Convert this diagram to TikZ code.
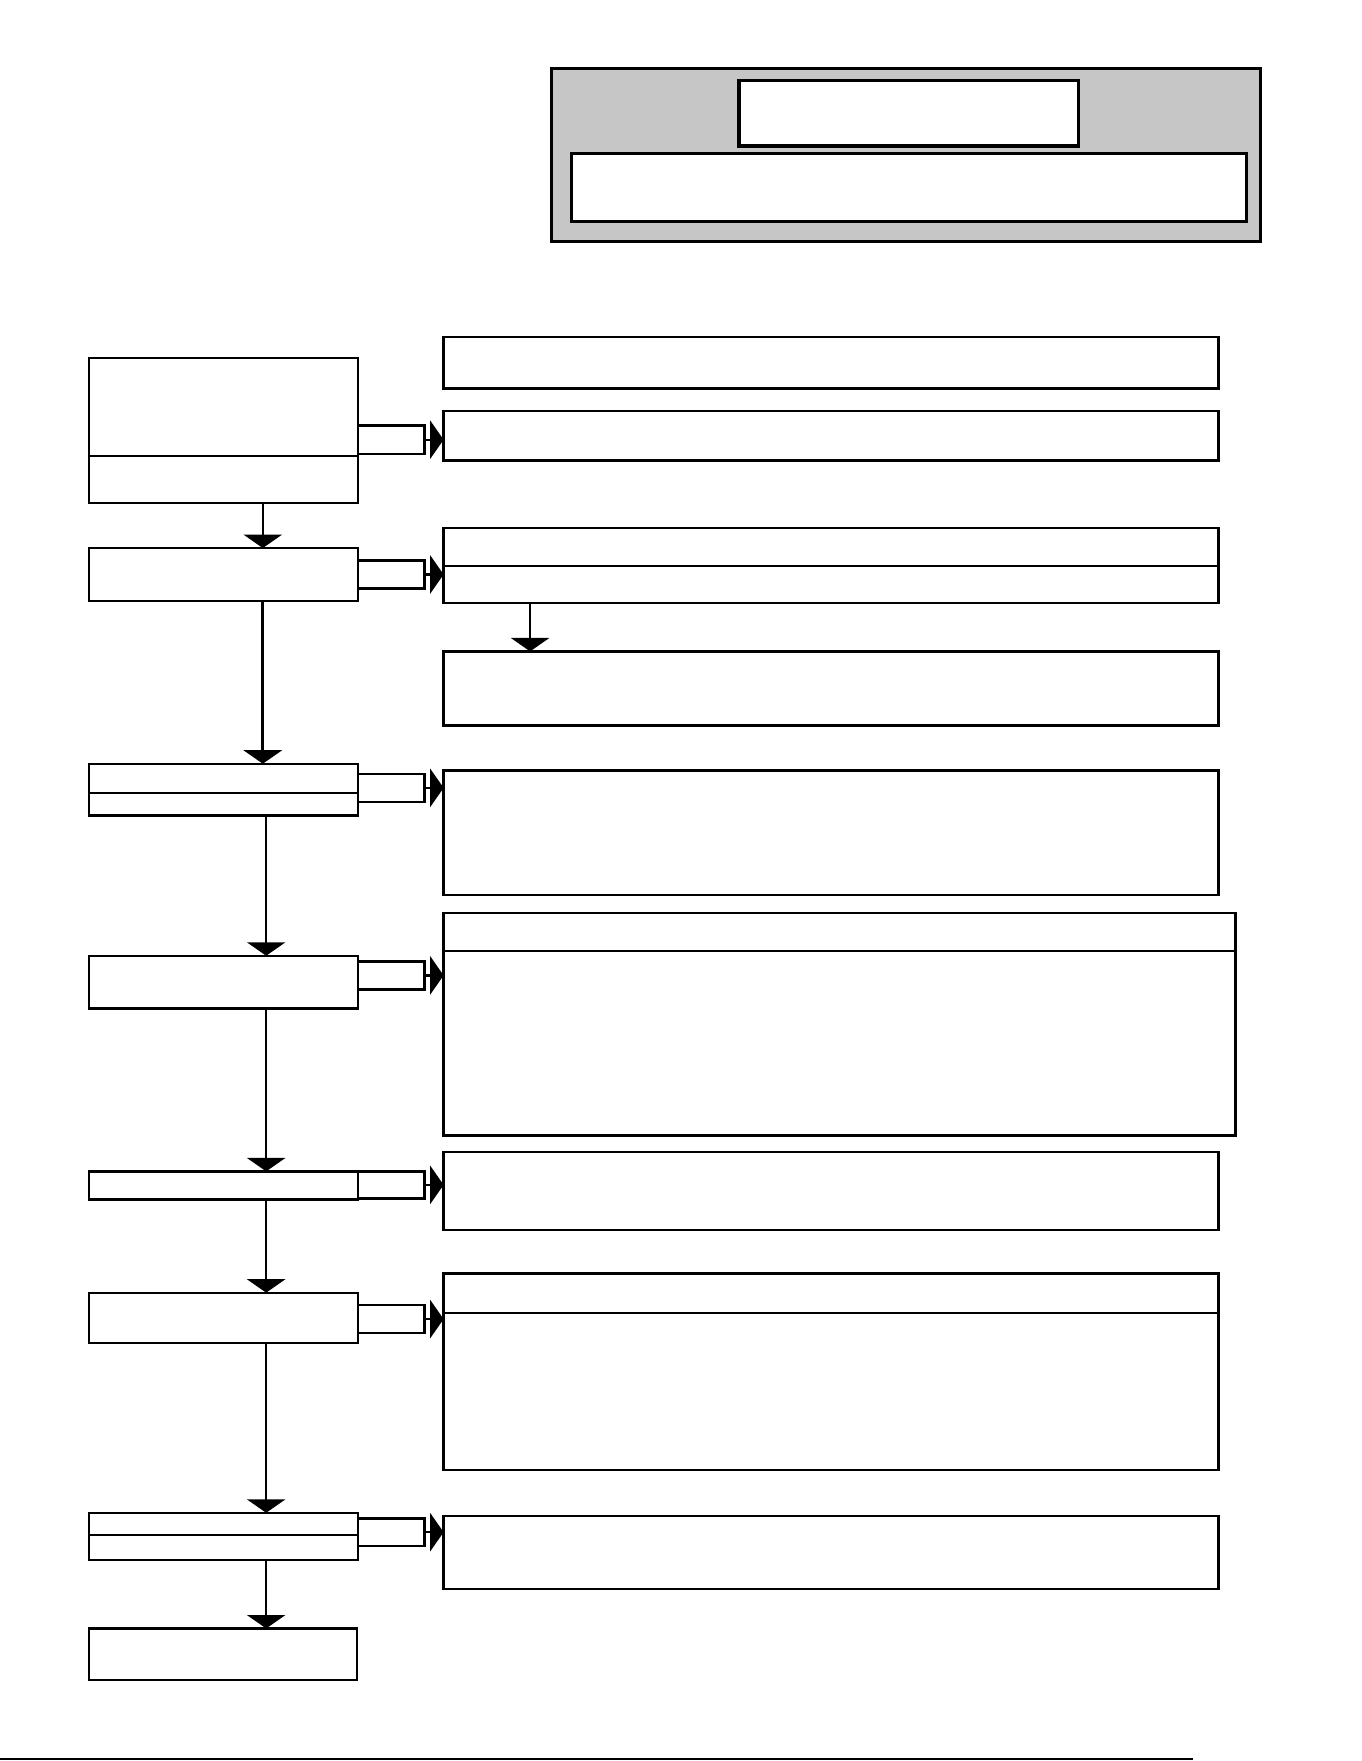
\documentclass[tikz,border=0pt]{standalone}
\usepackage{tikz}
\usetikzlibrary{arrows.meta, positioning, calc}
\definecolor{PanelGrey}{RGB}{198,198,198}

\begin{document}
\begin{tikzpicture}[x=0.1mm, y=-0.1mm, >={Triangle[width=3.4mm, length=1.2mm]},
  box/.style={draw, line width=0.6pt, fill=white, inner sep=0pt, outer sep=0pt, anchor=north west},
  tab/.style={box, minimum width=5.9mm, minimum height=2.5mm},
  divider/.style={line width=0.6pt},
  flow/.style={->, line width=0.6pt}]
  \useasboundingbox (0,0) rectangle (1212,1568);
  % Header panel
  \node[box, fill=PanelGrey, line width=0.8pt, minimum width=63.1mm, minimum height=15.4mm] (panel) at (491,61) {};
  \node[box, line width=0.8pt, minimum width=30.2mm, minimum height=5.8mm] (title) at (658,72) {};
  \node[box, line width=0.8pt, minimum width=60.1mm, minimum height=6mm] (subtitle) at (509,137) {};
  % Left column: steps
  \node[box, minimum width=24mm, minimum height=12.9mm] (s1) at (79,319) {};
  \node[box, minimum width=24mm, minimum height=4.7mm] (s2) at (79,488) {};
  \node[box, minimum width=24mm, minimum height=4.6mm] (s3) at (79,680) {};
  \node[box, minimum width=24mm, minimum height=4.7mm] (s4) at (79,851) {};
  \node[box, minimum width=24mm, minimum height=2.5mm] (s5) at (79,1043) {};
  \node[box, minimum width=24mm, minimum height=4.5mm] (s6) at (79,1151) {};
  \node[box, minimum width=24mm, minimum height=4.2mm] (s7) at (79,1347) {};
  \node[box, minimum width=23.9mm, minimum height=4.6mm] (s8) at (79,1450) {};
  \draw[divider] (78,406) -- (s1.east |- 0,406);
  \draw[divider] (78,706) -- (s3.east |- 0,706);
  \draw[divider] (78,1367) -- (s7.east |- 0,1367);
  % Tabs beside the steps
  \node[tab] (c1) at (319,379) {};
  \node[tab] (c2) at (319,499) {};
  \node[tab] (c3) at (319,689) {};
  \node[tab] (c4) at (319,856) {};
  \node[tab, minimum height=2.4mm] (c5) at (319,1043) {};
  \node[tab] (c6) at (319,1162) {};
  \node[tab, minimum height=2.45mm] (c7) at (319,1352) {};
  % Right column: remarks
  \node[box, minimum width=69mm, minimum height=4.6mm] (r1) at (395,300) {};
  \node[box, minimum width=69mm, minimum height=4.4mm] (r2) at (395,366) {};
  \node[box, minimum width=69mm, minimum height=6.7mm] (r3) at (395,470) {};
  \node[box, minimum width=69mm, minimum height=6.6mm] (r4) at (395,580) {};
  \node[box, minimum width=69mm, minimum height=11.1mm] (r5) at (395,686) {};
  \node[box, minimum width=70.5mm, minimum height=19.8mm] (r6) at (395,813) {};
  \node[box, minimum width=69mm, minimum height=6.9mm] (r7) at (395,1026) {};
  \node[box, minimum width=69mm, minimum height=17.5mm] (r8) at (395,1134) {};
  \node[box, minimum width=69mm, minimum height=6.5mm] (r9) at (395,1350) {};
  \draw[divider] (r3.west |- 0,504) -- (r3.east |- 0,504);
  \draw[divider] (r6.west |- 0,847) -- (r6.east |- 0,847);
  \draw[divider] (r8.west |- 0,1169) -- (r8.east |- 0,1169);
  % Flow down the left column
  \coordinate (ax) at (234,0);
  \coordinate (bx) at (237,0);
  \coordinate (cx) at (472,0);
  \draw[flow] (s1.south -| ax) -- (s2.north -| ax);
  \draw[flow, line width=0.8pt] (s2.south -| ax) -- (s3.north -| ax);
  \draw[flow] (s3.south -| bx) -- (s4.north -| bx);
  \draw[flow] (s4.south -| bx) -- (s5.north -| bx);
  \draw[flow] (s5.south -| bx) -- (s6.north -| bx);
  \draw[flow] (s6.south -| bx) -- (s7.north -| bx);
  \draw[flow] (s7.south -| bx) -- (s8.north -| bx);
  \draw[flow] (r3.south -| cx) -- (r4.north -| cx);
  % Tabs to remarks
  \draw[flow] (c1.east) -- (c1.east -| r2.west);
  \draw[flow] (c2.east) -- (c2.east -| r3.west);
  \draw[flow] (c3.east) -- (c3.east -| r5.west);
  \draw[flow] (c4.east) -- (c4.east -| r6.west);
  \draw[flow] (c5.east) -- (c5.east -| r7.west);
  \draw[flow] (c6.east) -- (c6.east -| r8.west);
  \draw[flow] (c7.east) -- (c7.east -| r9.west);
  % Foot rule
  \draw[line width=0.5pt] (0,1566.5) -- (1062,1566.5);
\end{tikzpicture}
\end{document}
